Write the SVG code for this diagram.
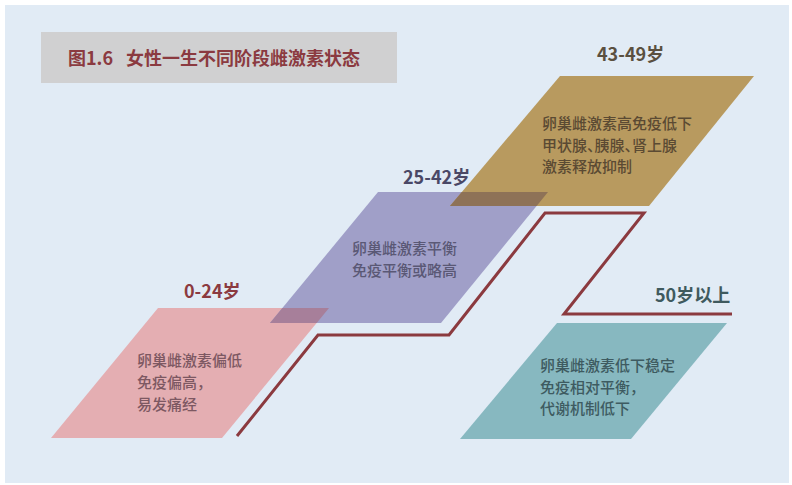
<svg xmlns="http://www.w3.org/2000/svg" width="792" height="485" viewBox="0 0 792 485">
<style>
text{font-family:"Noto Sans CJK SC","Noto Sans",sans-serif}
.title{font-size:18px;font-weight:700;fill:#8b3a40}
.age{font-size:18px;font-weight:700}
.body{font-size:15px;font-weight:500}
.halt{font-feature-settings:"halt" 1}
.conn{fill:none;stroke:#8b3a3f;stroke-width:3;stroke-linejoin:miter}
</style>
<rect x="0" y="0" width="792" height="485" fill="#ffffff"/>
<rect x="5" y="5" width="784" height="478" fill="#e1ebf5"/>
<g id="title">
<rect x="41" y="32" width="356" height="51" fill="#d0d0d1"/>
<text class="title" x="68" y="64.5">图1.6</text>
<text class="title" x="126" y="64.5">女性一生不同阶段雌激素状态</text>
</g>
<g id="connectors">
<path class="conn" d="M237,436 L318,335 L449,335 L545,213 L644,213 L564,314 L732,314"/>
</g>
<g id="stage1">
<polygon points="158,308 329,308 222,438 51,438" fill="#e4aeb2"/>
<text class="age" x="184" y="298" fill="#8b3a40">0-24岁</text>
<text class="body" fill="#7d5862"><tspan x="137" y="366">卵巢雌激素偏低</tspan><tspan x="137" y="388">免疫偏高，</tspan><tspan x="137" y="410">易发痛经</tspan></text>
</g>
<g id="stage2">
<polygon points="378,192 548,192 441,323 270,323" fill="#a09fc8"/>
<polygon points="282.4,308 329,308 316.7,323 270,323" fill="#a77f9a"/>
<text class="age" x="403" y="184" fill="#4a4866">25-42岁</text>
<text class="body" fill="#5a5875"><tspan x="352" y="254">卵巢雌激素平衡</tspan><tspan x="352" y="276">免疫平衡或略高</tspan></text>
</g>
<g id="stage3">
<polygon points="560,76 754,76 649,206 450,206" fill="#b89a5f"/>
<polygon points="461.8,192 548,192 536.6,206 450,206" fill="#8e7257"/>
<text class="age" x="597" y="61" fill="#5a5040">43-49岁</text>
<text class="body" fill="#5b4a33"><tspan x="542" y="129">卵巢雌激素高免疫低下</tspan><tspan class="halt" x="542" y="151">甲状腺、胰腺、肾上腺</tspan><tspan x="542" y="172">激素释放抑制</tspan></text>
</g>
<g id="stage4">
<polygon points="557,323 727,323 631,439 460,439" fill="#87b8c0"/>
<text class="age" x="655" y="302" fill="#3f5a5e">50岁以上</text>
<text class="body" fill="#3e5b61"><tspan x="540" y="371">卵巢雌激素低下稳定</tspan><tspan x="540" y="393">免疫相对平衡，</tspan><tspan x="540" y="414">代谢机制低下</tspan></text>
</g>
</svg>
